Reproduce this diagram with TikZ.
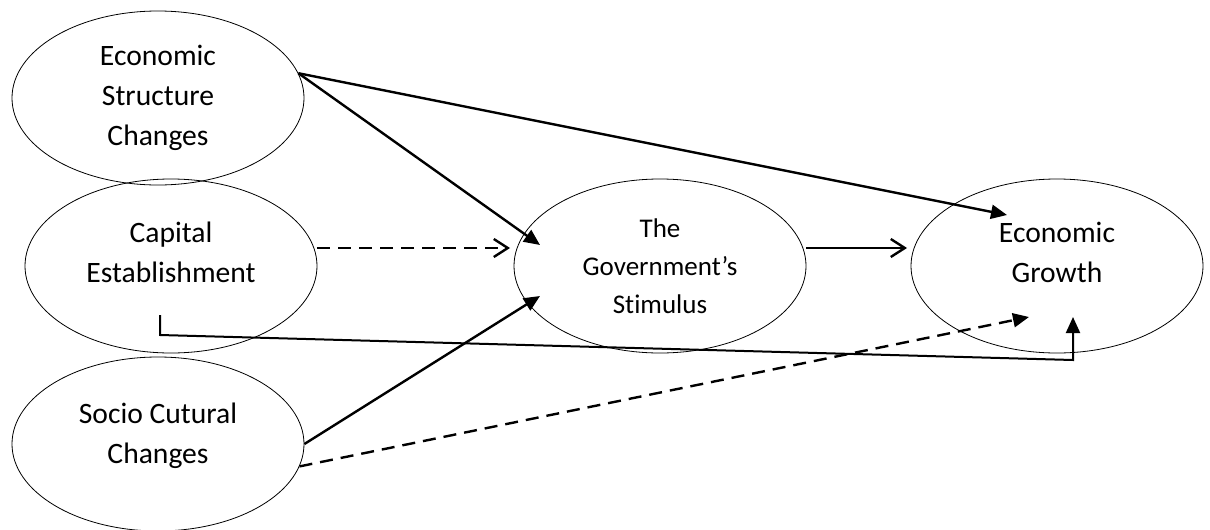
\documentclass[tikz,border=0pt]{standalone}
\usepackage{fontspec}
\setmainfont{Carlito}[Ligatures=NoCommon]
\usetikzlibrary{arrows.meta,shapes.geometric}

\begin{document}
\begin{tikzpicture}[x=0.5pt,y=-0.5pt,
        factor/.style={ellipse,draw,line width=0.4pt,minimum width=146pt,
          minimum height=87pt,inner sep=0pt,align=center,
          font=\fontsize{14.8}{20}\selectfont},
        solidarrow/.style={-{Triangle[length=8pt,width=7pt]},line width=1.2pt},
        openarrow/.style={-{Straight Barb[length=7pt,width=9pt]},line width=1.2pt},
        dasharrow/.style={dash pattern=on 6.5pt off 4pt}]
  \useasboundingbox (0,0) rectangle (1210,530);
  % factors
  \node[factor] (esc) at (158,98) {Economic\\Structure\\Changes};
  \node[factor] (ce) at (171,266) {Capital\\Establishment\\[-6pt]\mbox{}};
  \node[factor] (scc) at (158,444) {Socio Cutural\\Changes\\[-9pt]\mbox{}};
  \node[factor,font=\fontsize{13.5}{19}\selectfont] (gs) at (660,266)
        {The\\Government's\\Stimulus};
  \node[factor] (eg) at (1057,266) {Economic\\Growth\\[-6pt]\mbox{}};
  % arrow ends inside the ellipses
  \coordinate (gsa) at (540,245);
  \coordinate (gsb) at (540,296);
  \coordinate (gsl) at (510,248);
  \coordinate (ega) at (1007,215);
  \coordinate (egl) at (907,248);
  \coordinate (egd) at (1029,317);
  \coordinate (cetail) at (160,315);
  \coordinate (cebend) at (160,335);
  \coordinate (egbend) at (1073,360);
  \coordinate (egtip) at (1073,317);
  \path (esc.10) edge[solidarrow] (gsa)
        (esc.10) edge[solidarrow] (ega)
        (ce.east |- gsl) edge[openarrow,dasharrow] (gsl)
        (gs.east |- egl) edge[openarrow] (egl)
        (scc.east) edge[solidarrow] (gsb)
        (scc.-9) edge[solidarrow,dasharrow] (egd);
  \draw[solidarrow,line width=1pt] (cetail) -- (cebend) -- (egbend) -- (egtip);
\end{tikzpicture}
\end{document}
